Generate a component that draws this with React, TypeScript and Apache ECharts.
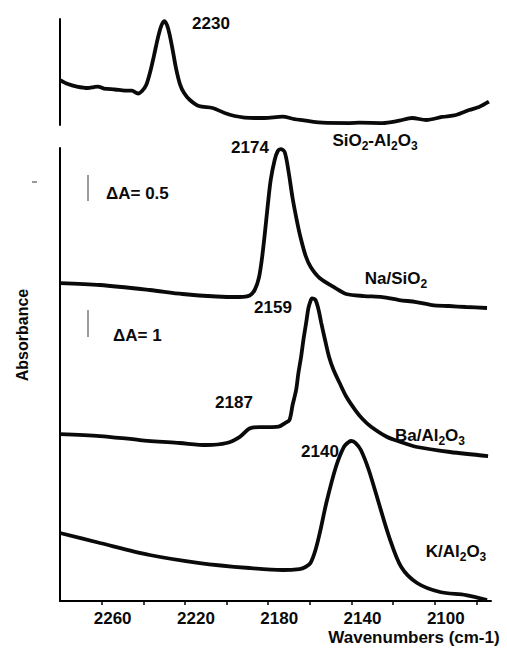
import React, { useEffect, useRef } from "react";
import * as echarts from "echarts";

const FONT = '"Liberation Sans", Arial, Helvetica, sans-serif';
const INK = "#0a0a0a";

// Wavenumber axis (cm-1), drawn high-to-low
const xTicks = [2260, 2240, 2220, 2200, 2180, 2160, 2140, 2120, 2100, 2080];
const xLabels = [2260, 2220, 2180, 2140, 2100];

// SiO2-Al2O3 (upper panel, ΔA = 0.5 scale)
const siAlWn = [
  2280.0, 2276.2, 2271.9, 2266.6, 2263.7, 2261.8, 2258.9, 2253.6, 2248.8, 2245.5,
  2242.5, 2240.6, 2238.6, 2236.7, 2234.8, 2232.9, 2231.4, 2230.0, 2228.6, 2227.2,
  2225.7, 2224.3, 2222.4, 2220.4, 2217.6, 2213.3, 2206.7, 2200.9, 2196.1, 2191.4,
  2186.6, 2181.8, 2173.1, 2167.4, 2154.0, 2141.0, 2136.2, 2125.2, 2117.1, 2110.9,
  2104.1, 2096.5, 2089.8, 2083.5, 2078.8, 2074.0,
];
const siAlAbs = [
  0.865, 0.788, 0.74, 0.712, 0.731, 0.74, 0.702, 0.683, 0.663, 0.66,
  0.606, 0.654, 0.769, 1.019, 1.346, 1.692, 1.904, 2.0, 1.923, 1.712,
  1.404, 1.096, 0.788, 0.615, 0.481, 0.365, 0.327, 0.231, 0.173, 0.144,
  0.135, 0.135, 0.16, 0.115, 0.044, 0.038, 0.044, 0.038, 0.083, 0.135,
  0.096, 0.154, 0.192, 0.288, 0.346, 0.448,
];

// Na/SiO2 (ΔA = 0.5 scale)
const naWn = [
  2280.0, 2260.8, 2236.9, 2221.1, 2204.8, 2193.8, 2188.9, 2186.5, 2184.5, 2183.1,
  2181.7, 2180.2, 2178.8, 2176.9, 2175.4, 2174.0, 2172.1, 2170.2, 2168.3, 2166.3,
  2164.4, 2162.0, 2159.6, 2155.3, 2147.7, 2142.5, 2133.9, 2125.2, 2117.1, 2108.9,
  2101.3, 2093.1, 2085.0, 2074.9,
];
const naAbs = [
  6.115, 6.077, 5.981, 5.904, 5.856, 5.846, 5.875, 5.981, 6.212, 6.558,
  7.038, 7.615, 8.096, 8.481, 8.654, 8.692, 8.635, 8.25, 7.75, 7.327,
  6.981, 6.635, 6.423, 6.212, 6.019, 5.904, 5.865, 5.846, 5.788, 5.75,
  5.692, 5.673, 5.654, 5.635,
];

// Ba/Al2O3 (ΔA = 1 scale)
const baWn = [
  2280.0, 2260.8, 2241.7, 2222.5, 2209.6, 2200.0, 2193.8, 2189.0, 2184.2, 2178.0,
  2175.0, 2171.9, 2169.8, 2168.3, 2166.6, 2165.5, 2164.2, 2163.1, 2161.8, 2160.7,
  2159.7, 2159.0, 2157.3, 2155.8, 2154.5, 2152.7, 2150.8, 2148.6, 2145.7, 2142.4,
  2138.2, 2134.7, 2130.6, 2123.1, 2116.7, 2108.5, 2092.7, 2074.4,
];
const baAbs = [
  6.185, 6.111, 5.963, 5.852, 5.778, 5.852, 6.074, 6.389, 6.444, 6.444,
  6.456, 6.593, 6.704, 7.259, 7.815, 8.444, 9.048, 9.667, 10.296, 10.852,
  11.111, 11.211, 11.148, 10.778, 10.296, 9.667, 9.048, 8.556, 8.074, 7.556,
  7.074, 6.741, 6.456, 6.085, 5.9, 5.704, 5.519, 5.37,
];

// K/Al2O3 (ΔA = 1 scale)
const kWn = [
  2280.0, 2260.8, 2236.9, 2212.9, 2189.0, 2173.1, 2165.0, 2162.1, 2159.7, 2157.3,
  2154.9, 2152.1, 2147.5, 2143.7, 2141.3, 2140.0, 2138.0, 2135.5, 2131.7, 2126.9,
  2121.9, 2116.1, 2108.5, 2097.5, 2085.0, 2074.9,
];
const kAbs = [
  2.519, 2.148, 1.704, 1.407, 1.222, 1.148, 1.185, 1.259, 1.407, 1.889,
  2.63, 3.63, 4.963, 5.704, 5.889, 5.926, 5.852, 5.593, 4.852, 3.63,
  2.37, 1.259, 0.667, 0.333, 0.222, 0.037,
];

const zip = (xs: number[], ys: number[]) => xs.map((x, i) => [x, ys[i]]);

const boldText = { fontSize: 17, fontWeight: "bold" as const, fontFamily: FONT, fill: INK };
const richStyles = {
  m: { fontSize: 17, fontWeight: "bold", fontFamily: FONT, fill: INK, lineHeight: 24 },
  s: { fontSize: 12, fontWeight: "bold", fontFamily: FONT, fill: INK, lineHeight: 12, verticalAlign: "bottom" },
};

const plainLabel = (text: string, x: number, y: number, align = "center") => ({
  type: "text",
  x,
  y,
  silent: true,
  style: { ...boldText, text, align, verticalAlign: "middle" },
});

const richLabel = (text: string, x: number, y: number) => ({
  type: "text",
  x,
  y,
  silent: true,
  style: { text, align: "center", verticalAlign: "middle", rich: richStyles },
});

const lineSeries = (data: number[][], xAxisIndex: number, yAxisIndex: number) => ({
  type: "line",
  xAxisIndex,
  yAxisIndex,
  data,
  showSymbol: false,
  smooth: 0.3,
  clip: false,
  silent: true,
  lineStyle: { color: INK, width: 3.8 },
});

const axisLineStyle = { show: true, onZero: false, lineStyle: { color: "#000", width: 2 } };

const option = {
  animation: false,
  backgroundColor: "#fff",
  grid: [
    { left: 60, right: 16, top: 19, height: 106 },
    { left: 60, right: 16, top: 148, bottom: 47 },
  ],
  xAxis: [
    { gridIndex: 0, type: "value", min: 2073, max: 2280, inverse: true, show: false },
    {
      gridIndex: 1,
      type: "value",
      min: 2073,
      max: 2280,
      inverse: true,
      axisLine: axisLineStyle,
      axisTick: {
        show: true,
        length: 4,
        customValues: xTicks,
        lineStyle: { color: "#000", width: 1.5 },
      },
      axisLabel: {
        customValues: xLabels,
        formatter: (v: number) => String(v),
        margin: 9,
        padding: [0, 0, 0, 22],
        fontSize: 17,
        fontWeight: "bold",
        fontFamily: FONT,
        color: INK,
      },
      splitLine: { show: false },
    },
  ],
  yAxis: [
    {
      gridIndex: 0, type: "value", min: 0, max: 2.04,
      axisLine: axisLineStyle, axisTick: { show: false }, axisLabel: { show: false }, splitLine: { show: false },
    },
    {
      gridIndex: 1, type: "value", min: 0, max: 16.78,
      axisLine: axisLineStyle, axisTick: { show: false }, axisLabel: { show: false }, splitLine: { show: false },
    },
    { gridIndex: 1, type: "value", min: 0, max: 8.712, show: false },
  ],
  series: [
    lineSeries(zip(siAlWn, siAlAbs), 0, 0),
    lineSeries(zip(naWn, naAbs), 1, 2),
    lineSeries(zip(baWn, baAbs), 1, 1),
    lineSeries(zip(kWn, kAbs), 1, 1),
  ],
  graphic: [
    // ΔA scale bars
    { type: "line", silent: true, shape: { x1: 88, y1: 175, x2: 88, y2: 201 }, style: { stroke: "#9c9c9c", lineWidth: 2 } },
    { type: "line", silent: true, shape: { x1: 88, y1: 310, x2: 88, y2: 337 }, style: { stroke: "#9c9c9c", lineWidth: 2 } },
    { type: "line", silent: true, shape: { x1: 32, y1: 182, x2: 37, y2: 182 }, style: { stroke: "#777", lineWidth: 1.5 } },
    plainLabel("\u0394A= 0.5", 106, 193, "left"),
    plainLabel("\u0394A= 1", 113, 335, "left"),
    // peak positions
    plainLabel("2230", 211, 23),
    plainLabel("2174", 250, 147),
    plainLabel("2159", 273, 307),
    plainLabel("2187", 234, 402),
    plainLabel("2140", 320, 451),
    // sample names
    richLabel("{m|SiO}{s|2}{m|-Al}{s|2}{m|O}{s|3}", 375, 140),
    richLabel("{m|Na/SiO}{s|2}", 396, 278),
    richLabel("{m|Ba/Al}{s|2}{m|O}{s|3}", 430, 435),
    richLabel("{m|K/Al}{s|2}{m|O}{s|3}", 456, 551),
    // axis titles
    {
      type: "text",
      x: 22,
      y: 335,
      rotation: Math.PI / 2,
      silent: true,
      style: { ...boldText, fontSize: 16, text: "Absorbance", align: "center", verticalAlign: "middle" },
    },
    plainLabel("Wavenumbers (cm-1)", 414, 637),
  ],
};

export default function App() {
  const ref = useRef<HTMLDivElement>(null);
  useEffect(() => {
    if (!ref.current) return;
    const chart = echarts.init(ref.current, null, { renderer: "svg" });
    chart.setOption(option as any);
    return () => chart.dispose();
  }, []);
  return (
    <div
      ref={ref}
      style={{ position: "absolute", left: 0, top: 0, width: 507, height: 648, background: "#fff" }}
    />
  );
}
